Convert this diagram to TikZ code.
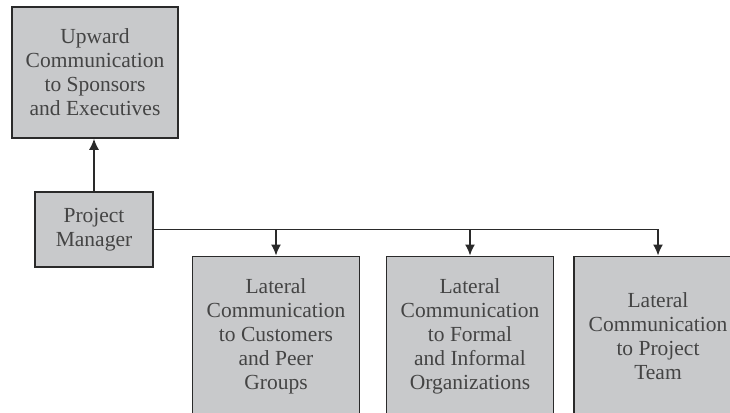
\documentclass[tikz,border=0pt]{standalone}
\usepackage{fontspec}
\setmainfont{Liberation Serif}
\usetikzlibrary{arrows.meta, positioning}
\definecolor{boxfill}{HTML}{C8C9CB}
\definecolor{boxline}{HTML}{2A2A2A}
\definecolor{boxtext}{HTML}{444444}
\begin{document}
\begin{tikzpicture}[
        x=1pt, y=-1pt,
        commbox/.style={
            rectangle, draw=boxline, fill=boxfill, line width=1.6pt,
            text=boxtext, font=\fontsize{21.5}{24}\selectfont,
            align=center, inner sep=0pt, minimum width=#1
        },
        link/.style={-{Latex[length=11pt, width=10pt]}, line width=1.4pt, color=boxline},
    ]

    \useasboundingbox (0,0) rectangle (730,412);
    \clip (0,0) rectangle (730,412);

    % Upward box
    \node[commbox=166pt, minimum height=131pt] (up) at (95,72.5)
        {Upward\\Communication\\to Sponsors\\and Executives};

    % Project manager
    \node[commbox=118pt, minimum height=75pt] (pm) at (94,229.5)
        {Project\\Manager};

    % ---- Lateral boxes ----
    \node[commbox=167pt, minimum height=160pt, anchor=north] (lat1) at (276,255.5)
        {Lateral\\Communication\\to Customers\\and Peer\\Groups};
    \node[commbox=167pt, minimum height=160pt, anchor=north] (lat2) at (470,255.5)
        {Lateral\\Communication\\to Formal\\and Informal\\Organizations};
    \node[commbox=168pt, minimum height=160pt, anchor=north] (lat3) at (658,255.5)
        {Lateral\\Communication\\to Project\\Team};

    % ---- Edges ----
    \draw[link] (pm.north) -- (pm.north |- up.south);
    \draw[link] (pm.east) -| (lat1.north);
    \draw[link] (pm.east) -| (lat2.north);
    \draw[link] (pm.east) -| (lat3.north);

\end{tikzpicture}
\end{document}
